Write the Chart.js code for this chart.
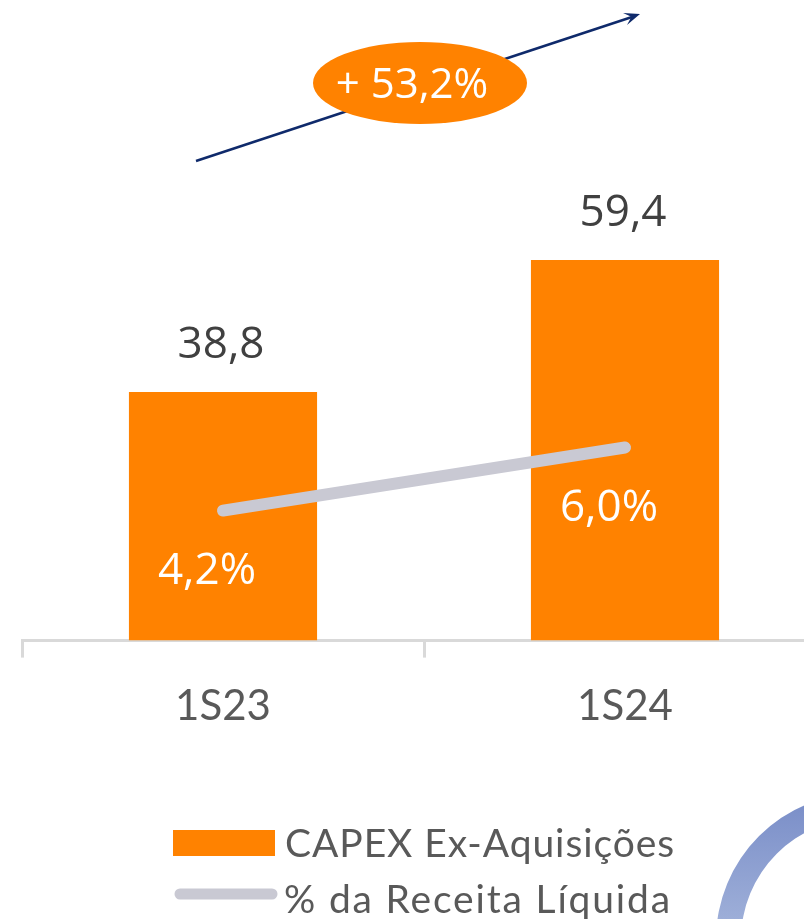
<!DOCTYPE html>
<html>
<head>
<meta charset="utf-8">
<script src="https://cdn.jsdelivr.net/npm/chart.js@4"></script>
<style>
  html, body { margin: 0; padding: 0; background: #fff; overflow: hidden; }
  #wrap { width: 830px; height: 919px; }
</style>
</head>
<body>
<div id="wrap"><canvas id="chart"></canvas></div>
<script>
const categories = ["1S23", "1S24"];
const capexValues = [38.8, 59.4];
const capexLabels = ["38,8", "59,4"];
const receitaPct = [4.2, 6.0];
const receitaLabels = ["4,2%", "6,0%"];
const growthLabel = "+ 53,2%";
const legendNames = ["CAPEX Ex-Aquisições", "% da Receita Líquida"];

const ORANGE = "#FF8200";
const GREY_LINE = "#C9C9D3";
const TEXT_DARK = "#404040";
const TEXT_MID = "#595959";

// value labels, growth bubble, legend and the corner ring
const extras = {
  id: "extras",
  afterDatasetsDraw(chart) {
    const ctx = chart.ctx;
    const bars = chart.getDatasetMeta(0).data;
    const pts = chart.getDatasetMeta(1).data;

    ctx.save();
    ctx.textAlign = "center";
    ctx.textBaseline = "alphabetic";
    ctx.font = "44px 'Open Sans'";
    ctx.fillStyle = TEXT_DARK;
    bars.forEach((b, i) => ctx.fillText(capexLabels[i], b.x - 2, b.y - 34));

    ctx.fillStyle = "#fff";
    pts.forEach((p, i) => ctx.fillText(receitaLabels[i], p.x - 16, p.y + 73));

    // growth arrow
    ctx.strokeStyle = "#0F2A6B";
    ctx.fillStyle = "#0F2A6B";
    ctx.lineWidth = 2.5;
    const x0 = 196, y0 = 161, x1 = 640, y1 = 14;
    ctx.beginPath();
    ctx.moveTo(x0, y0);
    ctx.lineTo(x1 - 8, y1 + 3);
    ctx.stroke();
    const ang = Math.atan2(y1 - y0, x1 - x0);
    ctx.beginPath();
    ctx.moveTo(x1, y1);
    ctx.lineTo(x1 - 17 * Math.cos(ang - 0.38), y1 - 17 * Math.sin(ang - 0.38));
    ctx.lineTo(x1 - 9 * Math.cos(ang), y1 - 9 * Math.sin(ang));
    ctx.lineTo(x1 - 17 * Math.cos(ang + 0.38), y1 - 17 * Math.sin(ang + 0.38));
    ctx.closePath();
    ctx.fill();

    // bubble
    ctx.fillStyle = ORANGE;
    ctx.beginPath();
    ctx.ellipse(420, 83, 107, 41, 0, 0, Math.PI * 2);
    ctx.fill();
    ctx.fillStyle = "#fff";
    ctx.font = "42px 'Open Sans'";
    ctx.fillText(growthLabel, 412, 98);

    // legend
    ctx.fillStyle = ORANGE;
    ctx.fillRect(173, 830, 102, 26);
    ctx.strokeStyle = GREY_LINE;
    ctx.lineWidth = 11;
    ctx.lineCap = "round";
    ctx.beginPath();
    ctx.moveTo(180, 894);
    ctx.lineTo(272, 894);
    ctx.stroke();

    ctx.textAlign = "left";
    ctx.fillStyle = TEXT_MID;
    ctx.font = "39px Lato";
    const targets = [[285, 857, 390], [284, 913, 388]];
    legendNames.forEach((t, i) => {
      ctx.letterSpacing = "0px";
      const w = ctx.measureText(t).width;
      ctx.letterSpacing = ((targets[i][2] - w) / t.length).toFixed(2) + "px";
      ctx.fillText(t, targets[i][0], targets[i][1]);
    });
    ctx.letterSpacing = "0px";

    // decorative ring, bottom right
    const g = ctx.createLinearGradient(0, 800, 0, 919);
    g.addColorStop(0, "#7A8EC8");
    g.addColorStop(1, "#9DAED8");
    ctx.fillStyle = g;
    ctx.beginPath();
    ctx.arc(863, 940, 147, 0, Math.PI * 2);
    ctx.arc(863, 940, 122, 0, Math.PI * 2, true);
    ctx.fill();
    ctx.restore();
  }
};

new Chart(document.getElementById("chart"), {
  data: {
    labels: categories,
    datasets: [
      {
        type: "bar",
        label: legendNames[0],
        data: capexValues,
        backgroundColor: ORANGE,
        categoryPercentage: 1,
        barPercentage: 0.468,
        yAxisID: "y",
        order: 2
      },
      {
        type: "line",
        label: legendNames[1],
        data: receitaPct,
        borderColor: GREY_LINE,
        borderWidth: 12,
        borderCapStyle: "round",
        pointRadius: 0,
        yAxisID: "y1",
        order: 1
      }
    ]
  },
  options: {
    responsive: true,
    maintainAspectRatio: false,
    animation: false,
    layout: { padding: { left: 22, right: 4, top: 0, bottom: 163 } },
    plugins: { legend: { display: false }, tooltip: { enabled: false } },
    scales: {
      x: {
        offset: true,
        grid: {
          offset: true,
          drawOnChartArea: false,
          drawTicks: true,
          tickLength: 17,
          color: "#D9D9D9",
          lineWidth: 3
        },
        border: { display: true, color: "#D9D9D9", width: 3 },
        ticks: {
          padding: 24,
          color: TEXT_MID,
          font: { family: "Lato", size: 42 }
        }
      },
      y: { display: false, min: 0, max: 100 },
      y1: { display: false, min: 0.49, max: 18.77 }
    }
  },
  plugins: [extras]
});
</script>
</body>
</html>
